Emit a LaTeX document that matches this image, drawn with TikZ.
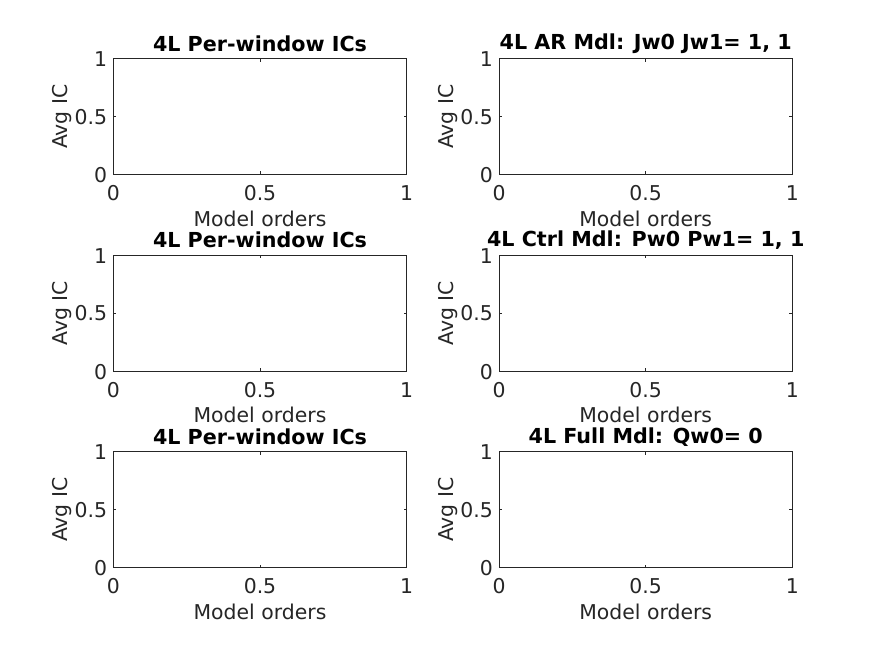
\documentclass[tikz,border=0pt]{standalone}
\usepackage{fontspec}
\setmainfont{DejaVu Sans}
\definecolor{axgray}{HTML}{262626}
\begin{document}
\begin{tikzpicture}[x=0.75pt,y=-0.75pt,
  axis/.style={draw=axgray,line width=0.6pt},
  ticklbl/.style={text=axgray,inner sep=0pt,font=\fontsize{15.3}{18}\selectfont},
  axlbl/.style={text=axgray,inner sep=0pt,font=\fontsize{15.3}{18}\selectfont},
  ttl/.style={text=black,inner sep=0pt,font=\fontsize{15.5}{18}\selectfont\bfseries}]
\def\axw{293.4} % axis box width (px)
\def\axh{115.8} % axis box height (px)
\def\tk{3}      % tick length
\useasboundingbox (0,0) rectangle (875,656);
\foreach \nm/\xl/\yt/\ttltxt in {
  a/113.3/58.7/{4L Per-window ICs},
  b/499/58.7/{4L AR Mdl: Jw0 Jw1= 1, 1},
  c/113.3/255.2/{4L Per-window ICs},
  d/499/255.2/{4L Ctrl Mdl: Pw0 Pw1= 1, 1},
  e/113.3/451.7/{4L Per-window ICs},
  f/499/451.7/{4L Full Mdl: Qw0= 0}}{
  \draw[axis] (\xl,\yt) rectangle ++(\axw,\axh);
  %\draw[axis] ticks at 0.5
  \draw[axis] (\xl+\axw/2,\yt+\axh) -- ++(0,-\tk) (\xl+\axw/2,\yt) -- ++(0,\tk)
    (\xl,\yt+\axh/2) -- ++(\tk,0) (\xl+\axw,\yt+\axh/2) -- ++(-\tk,0);
  \node[ticklbl] (x0\nm) at (\xl,\yt+\axh+18.7) {0};
  \node[ticklbl] (x5\nm) at (\xl+\axw/2,\yt+\axh+18.7) {0.5};
  \node[ticklbl] (x1\nm) at (\xl+\axw,\yt+\axh+18.7) {1};
  \node[ticklbl,anchor=east] (y0\nm) at (\xl-6,\yt+\axh+1) {0};
  \node[ticklbl,anchor=east] (y5\nm) at (\xl-6,\yt+\axh/2) {0.5};
  \node[ticklbl,anchor=east] (y1\nm) at (\xl-6,\yt+0.5) {1};
  \node[axlbl] (xl\nm) at (\xl+\axw/2,\yt+\axh+44) {Model orders};
  \node[axlbl,rotate=90] (yl\nm) at (\xl-51,\yt+\axh/2) {Avg IC};
  \node[ttl] (t\nm) at (\xl+\axw/2,\yt-15) {\ttltxt};
}
\end{tikzpicture}
\end{document}
